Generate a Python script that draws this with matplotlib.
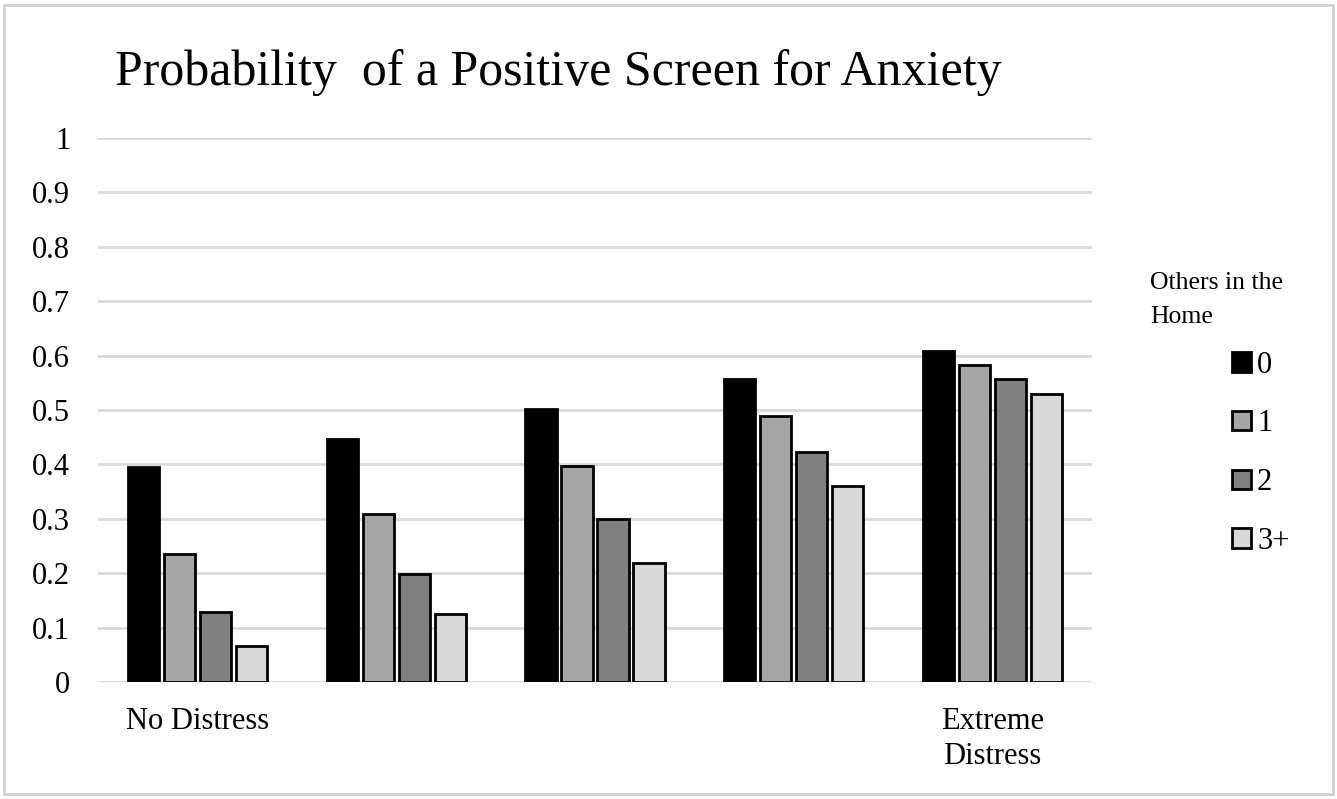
import numpy as np
import matplotlib.pyplot as plt
from matplotlib.patches import Rectangle

plt.rcParams['font.family'] = ['Liberation Serif', 'DejaVu Serif']

categories = ["No Distress", "", "", "", "Extreme\nDistress"]
series = ["0", "1", "2", "3+"]
vals_0 = [0.395, 0.447, 0.502, 0.557, 0.608]
vals_1 = [0.235, 0.309, 0.397, 0.489, 0.583]
vals_2 = [0.129, 0.199, 0.300, 0.423, 0.557]
vals_3 = [0.066, 0.125, 0.219, 0.360, 0.529]
colors = ["#000000", "#a6a6a6", "#808080", "#d9d9d9"]

fig = plt.figure(figsize=(13.37, 7.99), dpi=100)
ax = fig.add_axes([0.0733, 0.1464, 0.7435, 0.6809])

x = np.arange(len(categories))
w = 0.157
pitch = 0.181
for i, (vals, c, lab) in enumerate(zip([vals_0, vals_1, vals_2, vals_3], colors, series)):
    ax.bar(x + (i - 1.5) * pitch, vals, width=w, color=c, edgecolor="black",
           linewidth=2, label=lab, zorder=3)

ax.set_xlim(-0.5, len(categories) - 0.5)
ax.set_ylim(0, 1)
ax.set_yticks(np.arange(0, 1.01, 0.1))
ax.set_yticklabels(["0"] + ["%.1f" % v for v in np.arange(0.1, 0.95, 0.1)] + ["1"])
ax.set_xticks(x)
ax.set_xticklabels(categories, linespacing=1.25)
ax.tick_params(axis="both", length=0, labelsize=22)
ax.tick_params(axis="y", pad=20)
ax.tick_params(axis="x", pad=18)
ax.yaxis.grid(True, color="#d9d9d9", linewidth=2, zorder=0)
for s in ax.spines.values():
    s.set_visible(False)

fig.text(0.086, 0.893, "Probability  of a Positive Screen for Anxiety", fontsize=36,
         ha="left", va="baseline")

leg = fig.legend(loc="upper left", bbox_to_anchor=(0.9215, 0.561), frameon=False,
                 fontsize=22, handlelength=0.62, handleheight=0.6, handletextpad=0.2,
                 labelspacing=0.97, borderaxespad=0, borderpad=0)
fig.text(0.860, 0.6245, "Others in the\nHome", fontsize=18.5, ha="left", va="center",
         linespacing=1.7)

fig.patches.append(Rectangle((0.003, 0.006), 0.994, 0.988, transform=fig.transFigure,
                             fill=False, edgecolor="#d0d0d0", linewidth=2))

fig.savefig("out.png", dpi=100)
